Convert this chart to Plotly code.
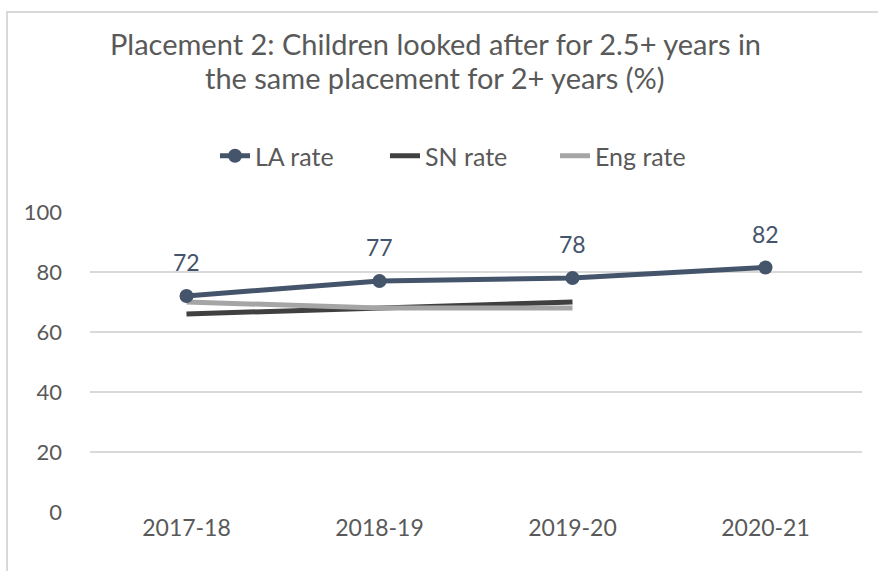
import plotly.graph_objects as go

years = ["2017-18", "2018-19", "2019-20", "2020-21"]
la_rate = [72, 77, 78, 81.5]
sn_rate = [66, 68, 70]
eng_rate = [70, 68, 68]
y_ticks = [0, 20, 40, 60, 80, 100]

FONT = "Lato"
GREY = "#595959"
fig = go.Figure()
fig.add_trace(go.Scatter(
    x=years[:3], y=sn_rate, name="SN rate", mode="lines",
    line=dict(color="#404040", width=5), legendrank=2,
))
fig.add_trace(go.Scatter(
    x=years[:3], y=eng_rate, name="Eng rate", mode="lines",
    line=dict(color="#A5A5A5", width=5), legendrank=3,
))
fig.add_trace(go.Scatter(
    x=years, y=la_rate, name="LA rate", mode="lines+markers",
    line=dict(color="#44546A", width=5), marker=dict(size=14, color="#44546A"),
    legendrank=1,
))

annotations = [
    dict(x=x, y=v, xref="x", yref="y", text=f"{round(v + 1e-9):.0f}", showarrow=False,
         yshift=34, font=dict(color="#44546A", size=23, family=FONT))
    for x, v in zip(years, la_rate)
]
annotations += [
    dict(text="Placement 2: Children looked after for 2.5+ years in",
         xref="paper", yref="paper", x=(435 - 90) / 772, y=(512 - 44) / 300,
         xanchor="center", yanchor="middle", showarrow=False,
         font=dict(size=29, color=GREY, family=FONT)),
    dict(text="the same placement for 2+ years (%)",
         xref="paper", yref="paper", x=(435 - 90) / 772, y=(512 - 78) / 300,
         xanchor="center", yanchor="middle", showarrow=False,
         font=dict(size=29, color=GREY, family=FONT)),
]

fig.update_layout(
    width=878, height=571,
    margin=dict(l=90, r=16, t=212, b=59),
    paper_bgcolor="white", plot_bgcolor="white",
    font=dict(family=FONT, color=GREY, size=22),
    showlegend=True,
    legend=dict(orientation="h", x=(215 - 90) / 772, xanchor="left", y=(512 - 156) / 300,
                yanchor="middle", font=dict(size=25, color=GREY, family=FONT),
                traceorder="normal", entrywidth=125, entrywidthmode="pixels"),
    xaxis=dict(showgrid=False, showline=False, ticks="", tickfont=dict(size=23),
               range=[-0.5, 3.5]),
    yaxis=dict(range=[0, 100], tickvals=y_ticks, showgrid=True, gridcolor="#D9D9D9",
               gridwidth=1.5, zeroline=False, showline=False, ticks="",
               ticklabelstandoff=27, tickfont=dict(size=22)),
    annotations=annotations,
    shapes=[dict(type="rect", xref="paper", yref="paper",
                 x0=(7 - 90) / 772, x1=(890 - 90) / 772, y0=(512 - 590) / 300, y1=(512 - 12) / 300,
                 line=dict(color="#D9D9D9", width=2))],
)

fig.write_html("out.html", config={"displayModeBar": False},
               post_script="document.body.style.margin='0';")
